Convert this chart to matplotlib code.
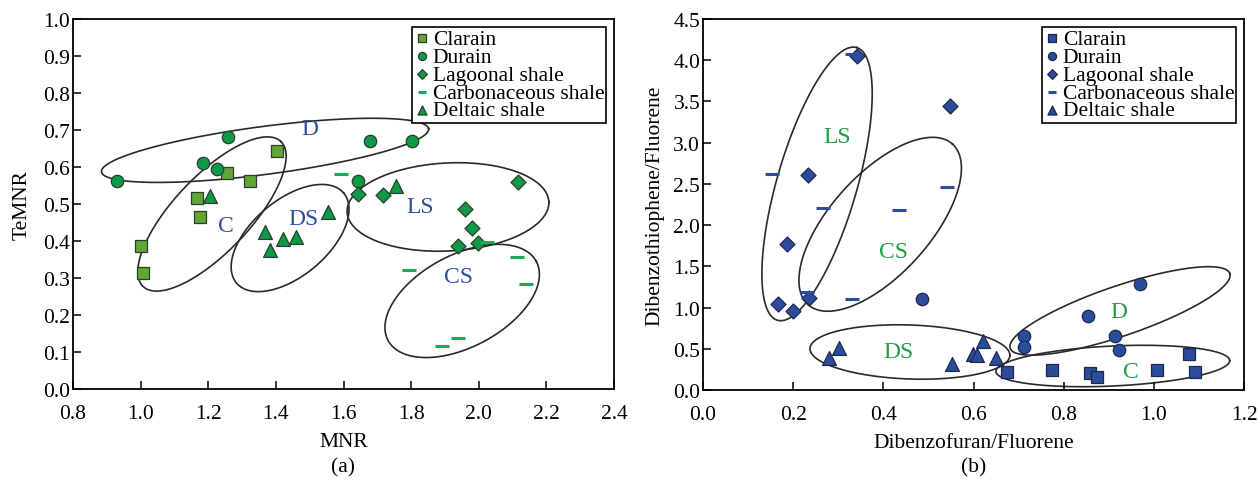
import numpy as np
import matplotlib
matplotlib.use('Agg')
import matplotlib.pyplot as plt

plt.rcParams['font.family'] = ['Liberation Serif', 'DejaVu Serif']
plt.rcParams['font.size'] = 15.5

# (a) MNR vs TeMNR
clarain_a_x = [1.402, 1.256, 1.323, 1.168, 1.176, 1.001, 1.008]
clarain_a_y = [0.642, 0.584, 0.561, 0.515, 0.465, 0.387, 0.314]
durain_a_x = [0.929, 1.185, 1.259, 1.227, 1.678, 1.644, 1.804]
durain_a_y = [0.563, 0.611, 0.680, 0.595, 0.671, 0.563, 0.671]
lagoon_a_x = [1.644, 1.718, 2.115, 1.959, 1.981, 1.940, 1.999]
lagoon_a_y = [0.527, 0.524, 0.559, 0.486, 0.434, 0.387, 0.395]
carbon_a_x = [1.593, 2.024, 1.795, 2.112, 2.140, 1.940, 1.890]
carbon_a_y = [0.581, 0.396, 0.322, 0.358, 0.285, 0.137, 0.117]
deltaic_a_x = [1.205, 1.368, 1.383, 1.422, 1.459, 1.555, 1.755]
deltaic_a_y = [0.521, 0.423, 0.377, 0.405, 0.410, 0.479, 0.549]

# (b) Dibenzofuran/Fluorene vs Dibenzothiophene/Fluorene
clarain_b_x = [0.675, 0.774, 0.858, 0.873, 1.006, 1.077, 1.091]
clarain_b_y = [0.22, 0.24, 0.21, 0.16, 0.24, 0.44, 0.22]
durain_b_x = [0.485, 0.711, 0.713, 0.855, 0.914, 0.923, 0.969]
durain_b_y = [1.10, 0.65, 0.52, 0.90, 0.65, 0.48, 1.29]
lagoon_b_x = [0.341, 0.548, 0.234, 0.186, 0.166, 0.199, 0.236]
lagoon_b_y = [4.05, 3.45, 2.61, 1.77, 1.04, 0.96, 1.12]
carbon_b_x = [0.331, 0.152, 0.541, 0.267, 0.435, 0.230, 0.331]
carbon_b_y = [4.08, 2.62, 2.46, 2.21, 2.18, 1.19, 1.10]
deltaic_b_x = [0.280, 0.302, 0.552, 0.598, 0.607, 0.622, 0.651]
deltaic_b_y = [0.385, 0.51, 0.31, 0.44, 0.42, 0.60, 0.385]

series_names = ['Clarain', 'Durain', 'Lagoonal shale', 'Carbonaceous shale', 'Deltaic shale']

# group outlines: label, centre x, centre y, semi-axes (px), angle (deg)
groups_a = [('D', 1.368, 0.645, 165, 24, 7.5),
            ('C', 1.211, 0.473, 100, 38, 46.5),
            ('DS', 1.442, 0.408, 70, 38, 40),
            ('LS', 1.909, 0.492, 101, 44, 3),
            ('CS', 1.951, 0.238, 84, 46, 28)]
group_labels_a = [('D', 1.501, 0.703), ('C', 1.253, 0.443), ('DS', 1.483, 0.462),
                  ('LS', 1.826, 0.492), ('CS', 1.939, 0.305)]
groups_b = [('LS', 0.253, 2.50, 142, 40, 73.8),
            ('CS', 0.393, 2.01, 108, 50, 48),
            ('DS', 0.459, 0.461, 100, 27, -2),
            ('D', 0.925, 0.959, 116, 25, 18.8),
            ('C', 0.909, 0.291, 117, 20, 2.7)]
group_labels_b = [('LS', 0.297, 3.07), ('CS', 0.422, 1.68), ('DS', 0.433, 0.465),
                  ('D', 0.923, 0.95), ('C', 0.948, 0.22)]


def draw_outline(ax, cx, cy, a, b, ang):
    x0, x1 = ax.get_xlim()
    y0, y1 = ax.get_ylim()
    bb = ax.get_window_extent()
    px, py = bb.width / (x1 - x0), bb.height / (y1 - y0)
    t = np.linspace(0, 2 * np.pi, 300)
    th = np.radians(ang)
    dx = a * np.cos(t) * np.cos(th) - b * np.sin(t) * np.sin(th)
    dy = a * np.cos(t) * np.sin(th) + b * np.sin(t) * np.cos(th)
    ax.plot(cx + dx / px, cy + dy / py, color='#2a2a2a', lw=1.2, zorder=1)


def style_axes(ax):
    for s in ax.spines.values():
        s.set_linewidth(1.3)
    ax.tick_params(direction='in', length=6, width=1.1, top=False, right=False,
                   labelsize=15.5)
    ax.tick_params(axis='x', pad=11)
    ax.tick_params(axis='y', pad=2)


fig = plt.figure(figsize=(12.58, 4.81), dpi=100)
ax1 = fig.add_axes([73 / 1258, 91 / 481, 541 / 1258, 370 / 481])
ax2 = fig.add_axes([703 / 1258, 90 / 481, 541 / 1258, 371 / 481])

ax1.set_xlim(0.8, 2.4)
ax1.set_ylim(0, 1.0)
ax1.set_xticks(np.arange(0.8, 2.41, 0.2))
ax1.set_yticks(np.arange(0, 1.01, 0.1))
ax1.xaxis.set_major_formatter(matplotlib.ticker.FormatStrFormatter('%.1f'))
ax1.yaxis.set_major_formatter(matplotlib.ticker.FormatStrFormatter('%.1f'))

ax2.set_xlim(0, 1.2)
ax2.set_ylim(0, 4.5)
ax2.set_xticks(np.arange(0, 1.21, 0.2))
ax2.set_yticks(np.arange(0, 4.51, 0.5))
ax2.xaxis.set_major_formatter(matplotlib.ticker.FormatStrFormatter('%.1f'))
ax2.yaxis.set_major_formatter(matplotlib.ticker.FormatStrFormatter('%.1f'))

green = '#0b9a47'
olive = '#63a638'
navy = '#2b4c9b'
edge_g = '#2d3d2d'
edge_b = '#1c2850'

data_a = [(clarain_a_x, clarain_a_y), (durain_a_x, durain_a_y), (lagoon_a_x, lagoon_a_y),
          (carbon_a_x, carbon_a_y), (deltaic_a_x, deltaic_a_y)]
data_b = [(clarain_b_x, clarain_b_y), (durain_b_x, durain_b_y), (lagoon_b_x, lagoon_b_y),
          (carbon_b_x, carbon_b_y), (deltaic_b_x, deltaic_b_y)]
markers = ['s', 'o', 'D', '_', '^']
sizes = [75, 80, 58, 90, 100]

for ax, data, fills, edge in [(ax1, data_a, [olive, green, green, '#19ab55', green], edge_g),
                              (ax2, data_b, [navy] * 5, edge_b)]:
    for (xs, ys), name, m, s, fc in zip(data, series_names, markers, sizes, fills):
        if m == '_':
            ax.scatter(xs, ys, marker=m, s=s, color=fc, linewidths=2.2, label=name, zorder=3)
        else:
            ax.scatter(xs, ys, marker=m, s=s, facecolor=fc, edgecolor=edge,
                       linewidths=0.9, label=name, zorder=3)

for ax, groups, labels, tc in [(ax1, groups_a, group_labels_a, '#2f4ea3'),
                               (ax2, groups_b, group_labels_b, '#1f9e45')]:
    for _, cx, cy, a, b, ang in groups:
        draw_outline(ax, cx, cy, a, b, ang)
    for txt, x, y in labels:
        ax.text(x, y, txt, color=tc, fontsize=17, ha='center', va='center', zorder=4)
    style_axes(ax)
    leg = ax.legend(loc='upper right', fontsize=15.5, markerscale=0.65, labelspacing=-0.1,
                    borderpad=0.1, handletextpad=0.15, handlelength=0.7,
                    borderaxespad=0.35, fancybox=False, framealpha=1, edgecolor='black')
    leg.get_frame().set_linewidth(1.2)

ax1.set_xlabel('MNR', fontsize=15.5, labelpad=6)
ax1.set_ylabel('TeMNR', fontsize=15.5, labelpad=8)
ax2.set_xlabel('Dibenzofuran/Fluorene', fontsize=15.5, labelpad=6)
ax2.set_ylabel('Dibenzothiophene/Fluorene', fontsize=15.5, labelpad=6)

fig.text((73 + 614) / 2 / 1258, 1 - 468 / 481, '(a)', ha='center', va='center', fontsize=15.5)
fig.text((703 + 1244) / 2 / 1258, 1 - 468 / 481, '(b)', ha='center', va='center', fontsize=15.5)

fig.savefig('out.png', dpi=100)
